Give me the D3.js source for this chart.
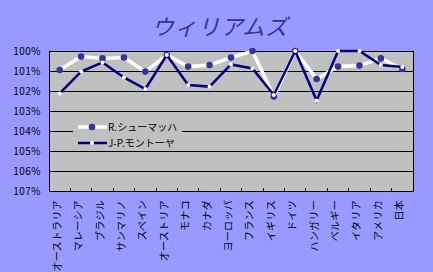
<!DOCTYPE html>
<html><head><meta charset="utf-8">
<script src="https://cdn.jsdelivr.net/npm/d3@7/dist/d3.min.js"></script>
<style>body{margin:0;background:#9999FF;}svg{display:block;}</style>
</head><body>
<svg id="c" width="433" height="272"></svg>
<script>
const categories = ["オーストラリア","マレーシア","ブラジル","サンマリノ","スペイン","オーストリア","モナコ","カナダ","ヨーロッパ","フランス","イギリス","ドイツ","ハンガリー","ベルギー","イタリア","アメリカ","日本"];
const schumacher = [100.95,100.28,100.37,100.33,101.03,100.2,100.78,100.7,100.33,100.0,102.28,100.0,101.4,100.78,100.73,100.37,100.9];
const montoya = [102.12,101.03,100.57,101.32,101.9,100.2,101.7,101.78,100.67,100.87,102.2,100.0,102.48,100.0,100.0,100.7,100.8];
const yTicks = [100,101,102,103,104,105,106,107];
const seriesNames = ["R.シューマッハ","J-P.モントーヤ"];
const title = "ウィリアムズ";

const svg = d3.select("#c");
const L=49, T=51, R=413, B=191;
const x = d3.scaleBand().domain(categories).range([L,R]);
const y = d3.scaleLinear().domain([100,107]).range([T,B]);
const font = "'MS PGothic','Noto Sans CJK JP',sans-serif";

svg.append("rect").attr("width",433).attr("height",272).attr("fill","#9999FF");
svg.append("text").attr("x",220).attr("y",35).attr("text-anchor","middle")
  .attr("font-family",font).attr("font-size",22).attr("font-style","italic").attr("letter-spacing",1)
  .attr("fill","#333399").text(title);

svg.append("rect").attr("x",L).attr("y",T).attr("width",R-L).attr("height",B-T).attr("fill","#C0C0C0");

// gridlines
svg.append("g").selectAll("line").data(yTicks).join("line")
  .attr("x1",L).attr("x2",R).attr("y1",d=>y(d)).attr("y2",d=>y(d))
  .attr("stroke","#000").attr("stroke-width",1).attr("shape-rendering","crispEdges");

// y axis labels
svg.append("g").selectAll("text").data(yTicks).join("text")
  .attr("x",41).attr("y",d=>y(d)+3.5).attr("text-anchor","end")
  .attr("font-family",font).attr("font-size",10).attr("letter-spacing",0.5).attr("fill","#000")
  .text(d=>d+"%");

// x axis
const xAxis = d3.axisBottom(x).tickSize(0).tickFormat("");
const gx = svg.append("g").attr("transform",`translate(0,${B})`).call(xAxis);
gx.select(".domain").remove();
svg.append("g").selectAll("line").data(categories.slice(1)).join("line")
  .attr("x1",d=>x(d)).attr("x2",d=>x(d)).attr("y1",B-3).attr("y2",B)
  .attr("stroke","#000").attr("shape-rendering","crispEdges");
svg.append("rect").attr("x",L).attr("y",T).attr("width",R-L).attr("height",B-T)
  .attr("fill","none").attr("stroke","#000").attr("shape-rendering","crispEdges");

svg.append("g").selectAll("text").data(categories).join("text")
  .attr("transform",d=>`translate(${x(d)+x.bandwidth()/2+1},200) rotate(-90)`)
  .attr("text-anchor","end").attr("font-family",font).attr("font-size",10).attr("letter-spacing",0.3).attr("fill","#000")
  .text(d=>d);

// legend
const lg = svg.append("g");
lg.append("rect").attr("x",73).attr("y",116).attr("width",109).attr("height",33).attr("fill","#C0C0C0");

const cx = d=>x(d)+x.bandwidth()/2;
const line = d3.line().x((d,i)=>cx(categories[i])).y(d=>y(d));

svg.append("path").datum(schumacher).attr("d",line).attr("fill","none").attr("stroke","#FFFFFF").attr("stroke-width",3.5);
svg.append("g").selectAll("circle").data(schumacher).join("circle")
  .attr("cx",(d,i)=>cx(categories[i])).attr("cy",d=>y(d)).attr("r",3.3).attr("fill","#333399");
svg.append("path").datum(montoya).attr("d",line).attr("fill","none").attr("stroke","#000080").attr("stroke-width",2.5);
svg.append("g").selectAll("circle").data(montoya).join("circle")
  .attr("cx",(d,i)=>cx(categories[i])).attr("cy",d=>y(d)).attr("r",2).attr("fill","#FFFFFF");

// legend entries
const rows=[{n:seriesNames[0],lc:"#FFFFFF",lw:3.5,mc:"#333399",mr:3.3,y:127},{n:seriesNames[1],lc:"#000080",lw:2.5,mc:"#FFFFFF",mr:2,y:143}];
rows.forEach(r=>{
  lg.append("line").attr("x1",78).attr("x2",107).attr("y1",r.y).attr("y2",r.y).attr("stroke",r.lc).attr("stroke-width",r.lw);
  lg.append("circle").attr("cx",92).attr("cy",r.y).attr("r",r.mr).attr("fill",r.mc);
  lg.append("text").attr("x",108).attr("y",r.y+4).attr("font-family",font).attr("font-size",10).attr("fill","#000").text(r.n);
});
</script>
</body></html>
